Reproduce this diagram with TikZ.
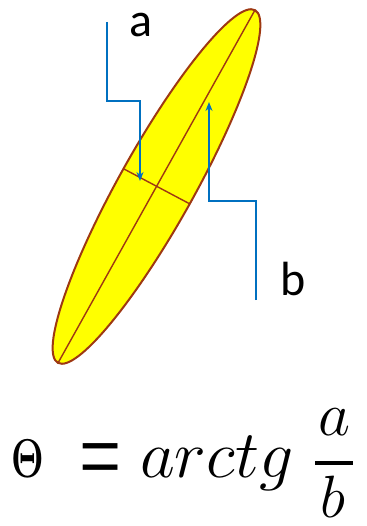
\documentclass[tikz,border=0pt]{standalone}
\usepackage{fontspec}
\newfontfamily\labfont{Carlito}
\newfontfamily\eqfont{Liberation Serif}
\definecolor{ellfill}{RGB}{255,255,0}
\definecolor{elldraw}{RGB}{158,56,18}
\definecolor{arrblue}{RGB}{0,112,192}
\usetikzlibrary{arrows.meta}
\begin{document}
\begin{tikzpicture}[x=1pt,y=-1pt,
  lab/.style={font=\labfont\fontsize{48}{50}\selectfont, inner sep=0pt, anchor=base},
  axisline/.style={draw=elldraw, line width=1.4pt},
  conn/.style={draw=arrblue, line width=1.5pt, -{Stealth[length=9pt,width=7pt]}},
  mth/.style={inner sep=0pt, font=\fontsize{24.88}{30}\selectfont},
]
\useasboundingbox (0,0) rectangle (366,526);
% ellipse
\coordinate (C) at (156.5,186.5);
\draw[fill=ellfill, draw=elldraw, line width=2pt, rotate around={60.8:(C)}] (C) ellipse [x radius=202, y radius=37.5];
\coordinate (M1) at (58,363);
\coordinate (M2) at (255,10);
\coordinate (m1) at (124,169);
\coordinate (m2) at (190,204);
\draw[axisline] (M1) -- (M2);
\draw[axisline] (m1) -- (m2);
% labels
\node[lab] (la) at (141,37) {a};
\node[lab] (lb) at (293,295) {b};
% connectors
\coordinate (a0) at (107,22);
\coordinate (a1) at (107,101);
\coordinate (a2) at (140,101);
\coordinate (a3) at (140,181);
\draw[conn] (a0) -- (a1) -- (a2) -- (a3);
\coordinate (b0) at (256,300);
\coordinate (b1) at (256,201);
\coordinate (b2) at (209,201);
\coordinate (b3) at (209,102);
\draw[conn] (b0) -- (b1) -- (b2) -- (b3);
% formula
\node[mth, anchor=base, font=\fontsize{24.88}{30}\selectfont\boldmath] (th) at (27.5,477) {\scalebox{1.5}[2.2]{$\Theta$}};
\node[mth, anchor=base] (eq) at (101,492.5) {\scalebox{3.0}[4.3]{\eqfont =}};
\node[mth, anchor=base west] (arc) at (140,477) {\scalebox{2.72}[2.7]{$arctg$}};
\node[mth, anchor=base] (num) at (334,435) {\scalebox{2.5}{$a$}};
\node[mth, anchor=base] (den) at (333,517) {\scalebox{2.4}{$b$}};
\coordinate (bar1) at (315,463);
\coordinate (bar2) at (353,463);
\draw[line width=3.2pt] (bar1) -- (bar2);
\end{tikzpicture}
\end{document}
